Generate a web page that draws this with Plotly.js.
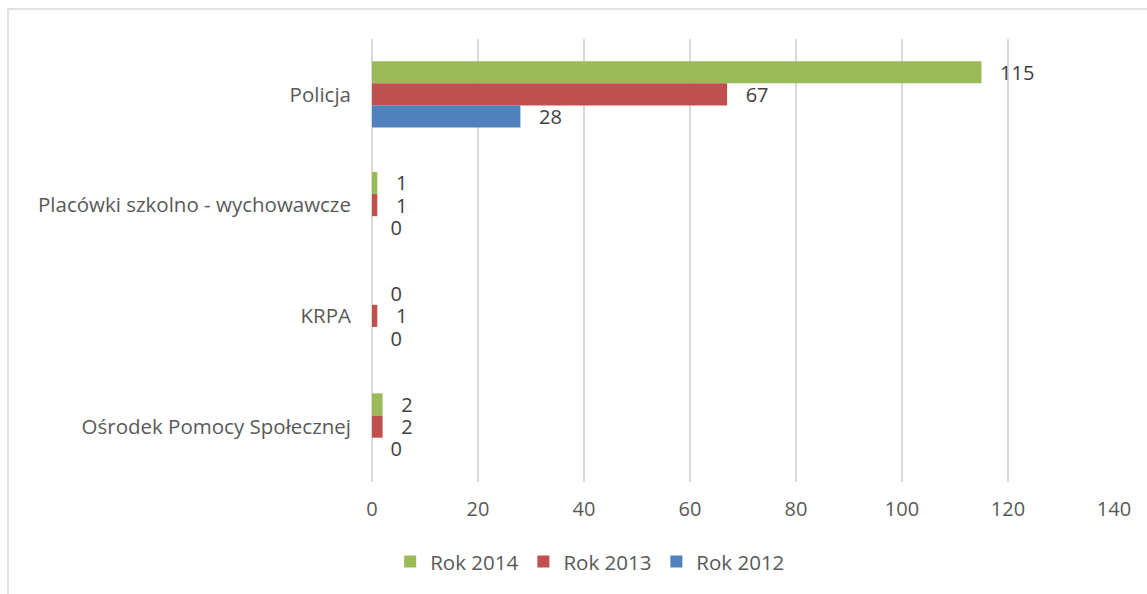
<!DOCTYPE html>
<html>
<head>
<meta charset="utf-8">
<script src="https://cdn.plot.ly/plotly-3.0.1.min.js"></script>
<style>html,body{margin:0;padding:0;background:#fff;}#chart{width:1147px;height:594px;}</style>
</head>
<body>
<div id="chart"></div>
<script>
const categories = ["Policja", "Placówki szkolno - wychowawcze", "KRPA", "Ośrodek Pomocy Społecznej"];
const seriesNames = ["Rok 2014", "Rok 2013", "Rok 2012"];
const rok2014 = [115, 1, 0, 2];
const rok2013 = [67, 1, 1, 2];
const rok2012 = [28, 0, 0, 0];
const xTicks = [0, 20, 40, 60, 80, 100, 120, 140];

const colors = ["#9BBB59", "#C0504D", "#4F81BD"];
const values = [rok2014, rok2013, rok2012];
const FONT = "'Open Sans', Lato, sans-serif";
const pad = "\u00a0\u00a0\u00a0";

const traces = values.map((v, i) => ({
  type: "bar",
  orientation: "h",
  name: seriesNames[i],
  y: categories,
  x: v,
  marker: {color: colors[i]},
  text: v.map(n => pad + n),
  textposition: "outside",
  constraintext: "none",
  textfont: {family: FONT, size: 20, color: "#404040"},
  cliponaxis: false,
  hoverinfo: "x+name"
}));

const layout = {
  width: 1147, height: 594,
  margin: {l: 372, r: 33, t: 39, b: 112},
  paper_bgcolor: "#fff", plot_bgcolor: "#fff",
  barmode: "group",
  bargap: 0.4,
  bargroupgap: 0,
  font: {family: FONT, size: 20, color: "#595959"},
  xaxis: {
    range: [0, 140],
    tickvals: xTicks,
    ticktext: xTicks.map(String),
    showgrid: true, gridcolor: "#d9d9d9", gridwidth: 1.5,
    zeroline: true, zerolinecolor: "#d9d9d9", zerolinewidth: 1.5,
    showline: false, ticks: "",
    ticklabelstandoff: 13,
    tickfont: {family: FONT, size: 20, color: "#595959"},
    fixedrange: true
  },
  yaxis: {
    type: "category",
    autorange: "reversed",
    showgrid: false, zeroline: false, showline: false, ticks: "",
    ticklabelstandoff: 20,
    tickfont: {family: FONT, size: 20.5, color: "#595959"},
    fixedrange: true
  },
  showlegend: true,
  legend: {
    orientation: "h",
    x: 0.294, xanchor: "center",
    y: -0.18, yanchor: "middle",
    font: {family: FONT, size: 20.5, color: "#595959"},
    traceorder: "normal",
    itemclick: false
  },
  shapes: [{
    type: "rect", xref: "paper", yref: "paper",
    x0: -0.4906, x1: 1.3, y0: -0.5, y1: 1.0677,
    line: {color: "#d9d9d9", width: 1.5},
    fillcolor: "rgba(0,0,0,0)", layer: "below"
  }]
};

Plotly.newPlot("chart", traces, layout, {displayModeBar: false, staticPlot: false});
</script>
</body>
</html>
